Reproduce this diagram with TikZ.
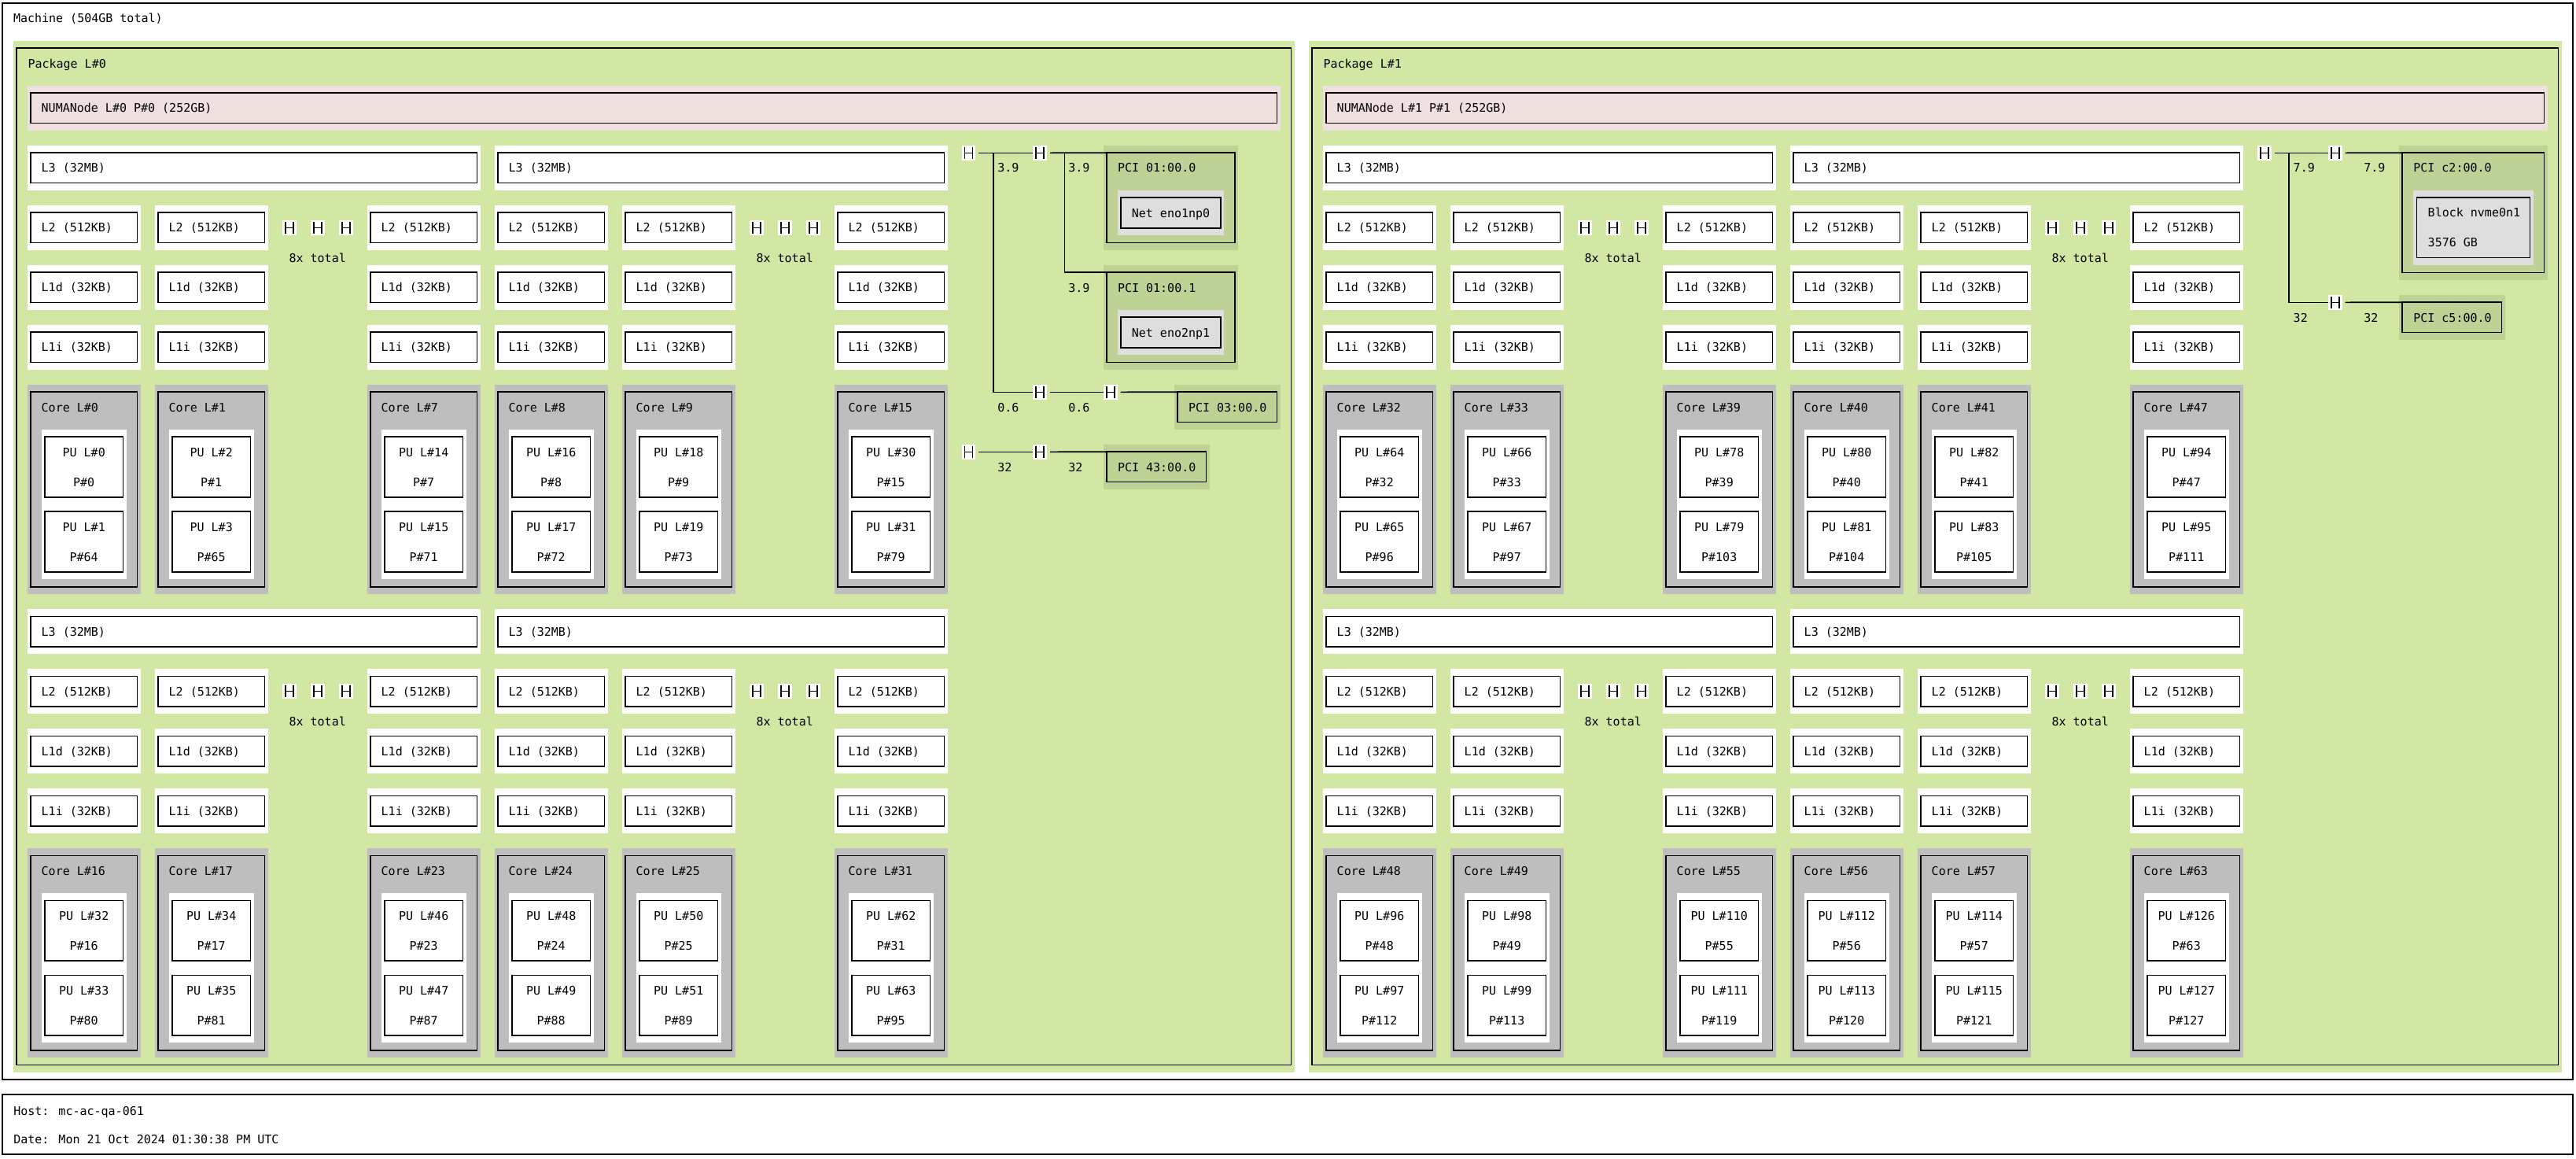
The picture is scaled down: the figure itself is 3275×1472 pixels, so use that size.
\documentclass[tikz,border=0pt]{standalone}
\usepackage{fontspec}
\newfontfamily\lsfont{DejaVu Sans Mono}
\definecolor{pkggreen}{RGB}{210,231,164}
\definecolor{numapink}{RGB}{239,223,222}
\definecolor{coregray}{RGB}{190,190,190}
\definecolor{pcigreen}{RGB}{190,210,149}
\definecolor{osgray}{RGB}{222,222,222}
\newcommand\objbox[6]{%
  \fill[#6] ({#2},{#3}) rectangle ({#4},{#5});
  \draw[fill=#6] ({#2+4.2},{#3+9.3}) rectangle ({#4-4.2},{#5-9.3});
  \coordinate (#1) at ({#2+4.2},{#3+9.3});
}
\newcommand\objtext[4]{\node[lbl] (#1) at ({#2},{#3+5.4}) {#4};}
\begin{document}
\begin{tikzpicture}[x=1pt,y=-1pt,line width=1.7pt,
  every node/.style={inner sep=0pt,outer sep=0pt,font=\lsfont\fontsize{15}{18}\selectfont},
  lbl/.style={anchor=base west},
  clbl/.style={anchor=base},
  hbr/.style={fill=white,minimum width=17.7pt,minimum height=18.7pt,anchor=north west,
    path picture={\draw[line width=1.6pt]
      ([xshift=3.8pt,yshift=-1.6pt]path picture bounding box.north west) -- ([xshift=3.8pt,yshift=1.6pt]path picture bounding box.south west)
      ([xshift=-3.8pt,yshift=-1.6pt]path picture bounding box.north east) -- ([xshift=-3.8pt,yshift=1.6pt]path picture bounding box.south east)
      ([xshift=3.8pt]path picture bounding box.west) -- ([xshift=-3.8pt]path picture bounding box.east);}}]
\useasboundingbox (0,0) rectangle (3275,1472);
\fill[white] (0,0) rectangle (3275,1472);
% machine
\draw[fill=white] (3.3,4) rectangle (3270.7,1372.3);
\coordinate (machine) at (3.3,4);
\objtext{machinet}{17}{23.3}{Machine (504GB total)}
% packages
\foreach \p/\ox/\pr/\nr in {0/0/1645.7/1627.7,1/1647/3256.7/3238.7}{
  \objbox{pkg\p}{17+\ox}{51.7}{\pr}{1362.7}{pkggreen}
  \objtext{pkgt\p}{35.5+\ox}{81}{Package L\#\p}
  \objbox{numa\p}{34.8+\ox}{109}{\nr}{165.7}{numapink}
  \objtext{numat\p}{52.7+\ox}{137.5}{NUMANode L\#\p{} P\#\p{} (252GB)}
  \foreach \bl/\oy in {0/0,1/589.3}{
    \objbox{l3a\p\bl}{34.8+\ox}{185+\oy}{610.6+\ox}{241.7+\oy}{white}
    \objtext{l3at\p\bl}{52.7+\ox}{213.4+\oy}{L3 (32MB)}
    \objbox{l3b\p\bl}{628.8+\ox}{185+\oy}{1204.6+\ox}{241.7+\oy}{white}
    \objtext{l3bt\p\bl}{646.7+\ox}{213.4+\oy}{L3 (32MB)}
    \foreach \c/\cx/\ci in {1/34.8/0,2/196.8/1,3/466.8/7,4/628.8/8,5/790.8/9,6/1060.8/15}{
      \pgfmathsetmacro\X{\cx+\ox}
      \pgfmathtruncatemacro\core{32*\p+16*\bl+\ci}
      \pgfmathtruncatemacro\pua{2*\core}
      \pgfmathtruncatemacro\pub{2*\core+1}
      \pgfmathtruncatemacro\pphys{\core+64}
      \objbox{l2\p\bl\c}{\X}{261+\oy}{\X+143.8}{317.7+\oy}{white}
      \objtext{l2t\p\bl\c}{\X+17.9}{289.4+\oy}{L2 (512KB)}
      \objbox{l1d\p\bl\c}{\X}{337+\oy}{\X+143.8}{393.7+\oy}{white}
      \objtext{l1dt\p\bl\c}{\X+17.9}{365.4+\oy}{L1d (32KB)}
      \objbox{l1i\p\bl\c}{\X}{413+\oy}{\X+143.8}{469.7+\oy}{white}
      \objtext{l1it\p\bl\c}{\X+17.9}{441.4+\oy}{L1i (32KB)}
      \objbox{core\core}{\X}{489+\oy}{\X+143.8}{755+\oy}{coregray}
      \objtext{coret\core}{\X+17.9}{517.7+\oy}{Core L\#\core}
      \objbox{pu\pua}{\X+17.9}{546+\oy}{\X+125.9}{641+\oy}{white}
      \node[clbl] (put\pua) at ({\X+71.9},{580.1+\oy}) {PU L\#\pua};
      \node[clbl] (pup\pua) at ({\X+71.9},{618.1+\oy}) {P\#\core};
      \objbox{pu\pub}{\X+17.9}{641+\oy}{\X+125.9}{736+\oy}{white}
      \node[clbl] (put\pub) at ({\X+71.9},{675.1+\oy}) {PU L\#\pub};
      \node[clbl] (pup\pub) at ({\X+71.9},{713.1+\oy}) {P\#\pphys};
    }
    \foreach \g in {0,1}{
      \pgfmathsetmacro\hx{340.6+\ox+594*\g}
      \foreach \i in {0,1,2}{
        \node[hbr] (dots\p\bl\g\i) at ({\hx+18.5+36*\i},{280+\oy}) {};
      }
      \node[clbl] (tot\p\bl\g) at ({\hx+63.1},{333.1+\oy}) {8x total};
    }
  }
}
% I/O of package 0
\objbox{pci0}{1403}{185}{1574}{317.7}{pcigreen}
\objtext{pci0t}{1421}{213.3}{PCI 01:00.0}
\objbox{net0}{1421}{242}{1556}{299}{osgray}
\node[clbl] (net0t) at (1488.5,276.1) {Net eno1np0};
\objbox{pci1}{1403}{337}{1574}{469.7}{pcigreen}
\objtext{pci1t}{1421}{365.7}{PCI 01:00.1}
\objbox{net1}{1421}{394}{1556}{451}{osgray}
\node[clbl] (net1t) at (1488.5,428.1) {Net eno2np1};
\objbox{pci2}{1493}{489}{1627.7}{545.7}{pcigreen}
\objtext{pci2t}{1511}{517.7}{PCI 03:00.0}
\objbox{pci3}{1403}{565}{1537.7}{621.7}{pcigreen}
\objtext{pci3t}{1421}{593.7}{PCI 43:00.0}
\node[hbr] (hb0) at (1222.7,185) {};
\node[hbr] (pb1) at (1313.3,185) {};
\node[hbr] (pb2) at (1313.3,489) {};
\node[hbr] (pb3) at (1403,489) {};
\node[hbr] (hb1) at (1222.7,565) {};
\node[hbr] (pb4) at (1313.3,565) {};
\draw ([xshift=4pt]hb0.east) -- (pb1.west);
\draw ([xshift=22.6pt]hb0.east) |- (pb2.west);
\draw ([xshift=4pt]pb1.east) -- (pci0);
\draw ([xshift=22.6pt]pb1.east) |- (pci1);
\draw ([xshift=4pt]pb2.east) -- (pb3.west);
\draw ([xshift=4pt]pb3.east) -- (pci2);
\draw ([xshift=4pt]hb1.east) -- (pb4.west);
\draw ([xshift=4pt]pb4.east) -- (pci3);
\objtext{bw1}{1268.3}{213.3}{3.9}
\objtext{bw2}{1358.3}{213.3}{3.9}
\objtext{bw3}{1358.3}{365.7}{3.9}
\objtext{bw4}{1268.3}{517.7}{0.6}
\objtext{bw5}{1358.3}{517.7}{0.6}
\objtext{bw6}{1268.3}{593.7}{32}
\objtext{bw7}{1358.3}{593.7}{32}
% I/O of package 1
\objbox{pci4}{3050}{185}{3238.7}{355.7}{pcigreen}
\objtext{pci4t}{3068.3}{213.3}{PCI c2:00.0}
\objbox{blk0}{3068.3}{242}{3220.7}{336.7}{osgray}
\objtext{blk0a}{3086.7}{270}{Block nvme0n1}
\objtext{blk0b}{3086.7}{307.7}{3576 GB}
\objbox{pci5}{3050}{375}{3184.7}{431.7}{pcigreen}
\objtext{pci5t}{3068.3}{403.7}{PCI c5:00.0}
\node[hbr] (hb2) at (2870,185) {};
\node[hbr] (pb5) at (2960,185) {};
\node[hbr] (pb6) at (2960,375) {};
\draw ([xshift=4pt]hb2.east) -- (pb5.west);
\draw ([xshift=22.6pt]hb2.east) |- (pb6.west);
\draw ([xshift=4pt]pb5.east) -- (pci4);
\draw ([xshift=4pt]pb6.east) -- (pci5);
\objtext{bw8}{2915.7}{213.3}{7.9}
\objtext{bw9}{3005.3}{213.3}{7.9}
\objtext{bw10}{2915.7}{403.7}{32}
\objtext{bw11}{3005.3}{403.7}{32}
% host box
\draw[fill=white] (3.3,1391) rectangle (3270.7,1466.7);
\coordinate (hostbox) at (3.3,1391);
\objtext{hostt}{17.3}{1411.7}{Host: mc-ac-qa-061}
\objtext{datet}{17.3}{1448.3}{Date: Mon 21 Oct 2024 01:30:38 PM UTC}
\end{tikzpicture}
\end{document}
